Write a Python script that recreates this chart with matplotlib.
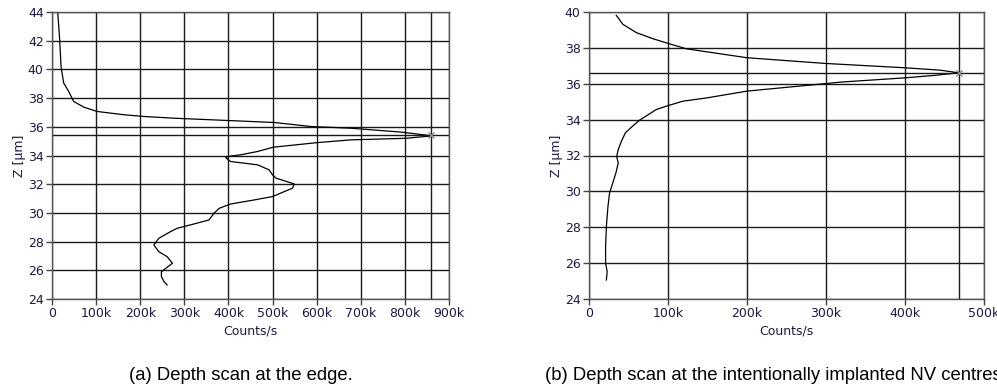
import matplotlib.pyplot as plt
from matplotlib.ticker import FuncFormatter, MultipleLocator

# (a) depth scan at the edge: counts/s (k) vs z (um)
edge_counts_k = [12.9, 17.4, 20.5, 26.5, 37.9, 49, 72, 102, 163, 208, 276, 398, 504, 587, 678, 792, 862,
                 803, 678, 602, 502, 466, 428, 398, 394, 405, 466, 492, 500, 508, 549, 545, 527, 500, 458,
                 405, 379, 367, 356, 322, 284, 269, 242, 231, 242, 261, 273, 258, 248, 248, 254, 261]
edge_z = [44.0, 42.07, 40.2, 39.05, 38.46, 37.77, 37.37, 37.07, 36.84, 36.72, 36.6, 36.44, 36.3, 36.02, 35.9,
          35.63, 35.37, 35.2, 35.09, 34.9, 34.58, 34.28, 34.05, 33.93, 33.84, 33.58, 33.35, 33.0, 32.65, 32.42,
          32.02, 31.72, 31.49, 31.14, 30.9, 30.62, 30.32, 29.97, 29.51, 29.23, 28.93, 28.7, 28.23, 27.77, 27.3,
          26.95, 26.49, 26.14, 25.9, 25.56, 25.21, 24.98]
edge_peak = (860, 35.4)

# (b) depth scan at the implanted NV centres
nv_counts_k = [34.6, 43, 60, 81, 100, 123, 200, 300, 400, 444, 468, 436, 400, 318, 300, 200, 149, 119, 100,
               85, 72, 64, 56, 46, 41, 37, 35, 37, 34, 30, 26, 24, 22, 21, 21, 23, 22]
nv_z = [39.81, 39.31, 38.85, 38.51, 38.25, 37.95, 37.45, 37.13, 36.89, 36.76, 36.61, 36.46, 36.33, 36.09,
        36.01, 35.59, 35.21, 35.03, 34.78, 34.56, 34.19, 33.97, 33.67, 33.26, 32.79, 32.33, 31.95, 31.58,
        31.02, 30.46, 29.9, 29.16, 28.04, 26.92, 25.99, 25.53, 25.06]
nv_peak = (468, 36.6)

captions = ["(a) Depth scan at the edge.",
            "(b) Depth scan at the intentionally implanted NV centres."]

fig = plt.figure(figsize=(9.97, 3.89), dpi=100)
W, H = 997, 389


def kfmt(v, pos):
    return "0" if abs(v) < 1e-9 else "%dk" % round(v)


def setup(ax, xmax, ymin, ymax):
    ax.set_xlim(0, xmax)
    ax.set_ylim(ymin, ymax)
    ax.xaxis.set_major_locator(MultipleLocator(100))
    ax.yaxis.set_major_locator(MultipleLocator(2))
    ax.xaxis.set_major_formatter(FuncFormatter(kfmt))
    ax.grid(True, color='#1a1a1a', linewidth=1.0)
    ax.set_axisbelow(True)
    for s in ax.spines.values():
        s.set_color('#555555')
        s.set_linewidth(1.0)
    ax.tick_params(direction='out', length=4.5, width=1, color='#444444',
                   labelsize=9, labelcolor='#1a1a40', pad=1.5)
    ax.set_xlabel("Counts/s", fontsize=9, color='#1a1a40', labelpad=3)
    ax.set_ylabel("Z [µm]", fontsize=9, color='#1a1a40', labelpad=1)


def cursor(ax, pk):
    ax.axvline(pk[0], color='#1a1a1a', linewidth=1.0)
    ax.axhline(pk[1], color='#1a1a1a', linewidth=1.0)
    ax.plot([pk[0]], [pk[1]], marker='x', color='#888888', markersize=5, mew=1)


ax1 = fig.add_axes([52 / W, 1 - 299 / H, (449 - 52) / W, (299 - 12) / H])
setup(ax1, 900, 24, 44)
ax1.plot(edge_counts_k, edge_z, color='black', linewidth=0.9)
cursor(ax1, edge_peak)

ax2 = fig.add_axes([589 / W, 1 - 299 / H, (984 - 589) / W, (299 - 12) / H])
setup(ax2, 500, 24, 40)
ax2.plot(nv_counts_k, nv_z, color='black', linewidth=0.9)
cursor(ax2, nv_peak)

fig.text(241 / W, 1 - 376 / H, captions[0], ha='center', va='center',
         fontsize=13.3, family=['Liberation Sans', 'DejaVu Sans'])
fig.text(545 / W, 1 - 376 / H, captions[1], ha='left', va='center',
         fontsize=13.3, family=['Liberation Sans', 'DejaVu Sans'])

fig.savefig("out.png", dpi=100)
